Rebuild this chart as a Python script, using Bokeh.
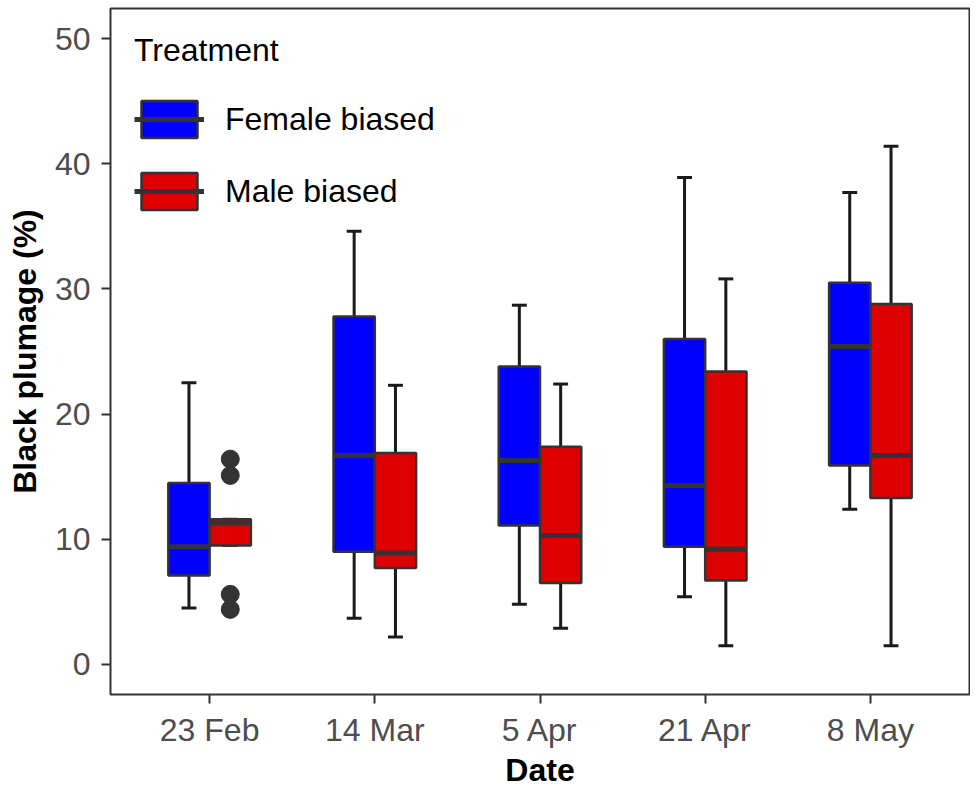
from bokeh.plotting import figure
from bokeh.models import ColumnDataSource, FactorRange, Range1d, Legend, LegendItem
from bokeh.transform import dodge
from bokeh.embed import file_html
from bokeh.resources import INLINE

# ---- data ----
dates = ["23 Feb", "14 Mar", "5 Apr", "21 Apr", "8 May"]
treatments = ["Female biased", "Male biased"]

female_lower = [4.5, 3.7, 4.8, 5.4, 12.4]
female_q1 = [7.1, 9.0, 11.1, 9.4, 15.9]
female_median = [9.4, 16.7, 16.3, 14.3, 25.4]
female_q3 = [14.5, 27.8, 23.8, 26.0, 30.5]
female_upper = [22.5, 34.6, 28.7, 38.9, 37.7]

male_lower = [9.5, 2.2, 2.9, 1.5, 1.5]
male_q1 = [9.5, 7.7, 6.5, 6.7, 13.3]
male_median = [11.3, 8.9, 10.3, 9.2, 16.7]
male_q3 = [11.6, 16.9, 17.4, 23.4, 28.8]
male_upper = [11.6, 22.3, 22.4, 30.8, 41.4]

male_outlier_dates = ["23 Feb", "23 Feb", "23 Feb", "23 Feb"]
male_outlier_values = [16.4, 15.1, 5.6, 4.4]

y_ticks = [0, 10, 20, 30, 40, 50]

FONT = "Liberation Sans"
DARK = "#333333"
BOX_W = 0.25
CAP_W = 0.09

p = figure(
    width=970, height=793,
    x_range=FactorRange(factors=dates, range_padding=0.1, range_padding_units="absolute"),
    y_range=Range1d(-2.4, 52.4),
    output_backend="svg", toolbar_location=None,
    min_border_left=110, min_border_bottom=99, min_border_top=8, min_border_right=1,
    background_fill_color="white", border_fill_color="white",
)
p.xgrid.grid_line_color = None
p.ygrid.grid_line_color = None
p.outline_line_color = DARK
p.outline_line_width = 2

def draw(lower, q1, med, q3, upper, offset, color):
    src = ColumnDataSource(dict(date=dates, lower=lower, q1=q1, med=med, q3=q3, upper=upper))
    xc = dodge("date", offset, range=p.x_range)
    xl = dodge("date", offset - CAP_W / 2, range=p.x_range)
    xr = dodge("date", offset + CAP_W / 2, range=p.x_range)
    bl = dodge("date", offset - BOX_W / 2, range=p.x_range)
    br = dodge("date", offset + BOX_W / 2, range=p.x_range)
    p.segment(x0=xc, x1=xc, y0="lower", y1="upper", source=src, line_color="#1a1a1a", line_width=3)
    p.segment(x0=xl, x1=xr, y0="upper", y1="upper", source=src, line_color="#1a1a1a", line_width=3)
    p.segment(x0=xl, x1=xr, y0="lower", y1="lower", source=src, line_color="#1a1a1a", line_width=3)
    box = p.vbar(x=xc, width=BOX_W, bottom="q1", top="q3", source=src,
                 fill_color=color, line_color=DARK, line_width=2.5)
    med_r = p.segment(x0=bl, x1=br, y0="med", y1="med", source=src, line_color=DARK, line_width=5)
    return box, med_r

fbox, fmed = draw(female_lower, female_q1, female_median, female_q3, female_upper, -0.125, "#0000FF")
mbox, mmed = draw(male_lower, male_q1, male_median, male_q3, male_upper, 0.125, "#DD0000")

out_src = ColumnDataSource(dict(date=male_outlier_dates, value=male_outlier_values))
p.scatter(x=dodge("date", 0.125, range=p.x_range), y="value", source=out_src,
          size=18, fill_color=DARK, line_color=DARK)

# axes
for ax in (p.xaxis[0], p.yaxis[0]):
    ax.axis_line_color = None
    ax.major_tick_line_color = DARK
    ax.major_tick_line_width = 2
    ax.major_tick_out = 9
    ax.major_tick_in = 0
    ax.minor_tick_line_color = None
    ax.major_label_text_font = FONT
    ax.major_label_text_font_size = "32px"
    ax.major_label_text_color = "#4D4D4D"
    ax.major_label_text_line_height = 1.0
    ax.axis_label_text_font = FONT
    ax.axis_label_text_font_size = "32px"
    ax.axis_label_text_font_style = "bold"
    ax.axis_label_text_color = "black"
    ax.axis_label_text_line_height = 1.0

p.yaxis.ticker = y_ticks
p.xaxis.axis_label = "Date"
p.yaxis.axis_label = "Black plumage (%)"
p.xaxis.major_label_standoff = 8
p.yaxis.major_label_standoff = 11
p.xaxis.axis_label_standoff = 1
p.yaxis.axis_label_standoff = 9

legend = Legend(
    items=[LegendItem(label=treatments[0], renderers=[fbox, fmed]),
           LegendItem(label=treatments[1], renderers=[mbox, mmed])],
    location="top_left", title="Treatment",
    title_text_font=FONT, title_text_font_size="32px", title_text_color="black",
    title_text_font_style="normal", title_standoff=27,
    label_text_font=FONT, label_text_font_size="32px", label_text_color="black",
    glyph_width=70, glyph_height=46, label_height=46, label_standoff=21,
    spacing=26, padding=14, margin=24,
    border_line_color=None, background_fill_alpha=0,
)
p.add_layout(legend)

open("out.html", "w").write(file_html(p, INLINE))
